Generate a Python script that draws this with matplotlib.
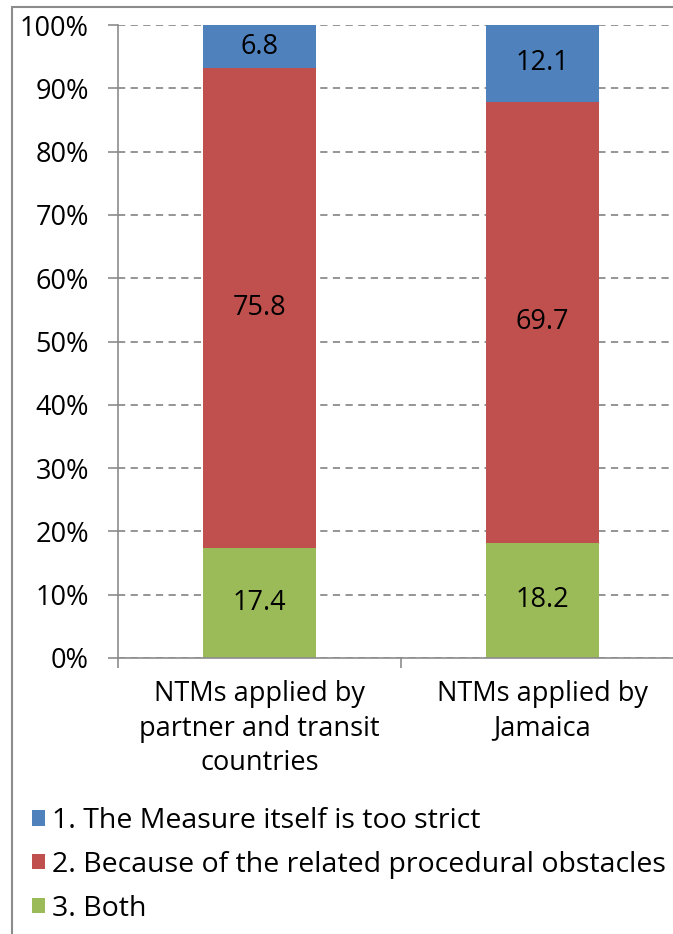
import matplotlib
matplotlib.use("Agg")
import matplotlib.pyplot as plt
from matplotlib.patches import Rectangle

plt.rcParams["font.family"] = ["Open Sans", "DejaVu Sans"]

categories = ["NTMs applied by\npartner and transit\ncountries", "NTMs applied by\nJamaica"]
both = [17.4, 18.2]
procedural = [75.8, 69.7]
too_strict = [6.8, 12.1]
series_labels = [
    "1. The Measure itself is too strict",
    "2. Because of the related procedural obstacles",
    "3. Both",
]
colors = ["#4F81BD", "#C0504D", "#9BBB59"]
FS = 19.5

fig = plt.figure(figsize=(6.73, 9.34), dpi=100)
fig.patches.append(Rectangle((12 / 673, -0.1), 2, 1.1 - 7 / 934, transform=fig.transFigure,
                             fill=False, edgecolor="#8c8c8c", linewidth=1.5, zorder=0))
ax = fig.add_axes([118 / 673, 1 - 658 / 934, 566 / 673, 633 / 934])

x = [0.5, 1.5]
w = 0.4
bottoms2 = both
bottoms3 = [a + b for a, b in zip(both, procedural)]
b3 = ax.bar(x, both, w, color=colors[2], zorder=2)
b2 = ax.bar(x, procedural, w, bottom=bottoms2, color=colors[1], zorder=2)
b1 = ax.bar(x, too_strict, w, bottom=bottoms3, color=colors[0], zorder=2)

for vals, bot in [(both, [0, 0]), (procedural, bottoms2), (too_strict, bottoms3)]:
    for xi, v, b in zip(x, vals, bot):
        ax.text(xi, b + v / 2, f"{v}", ha="center", va="center", fontsize=FS, color="black", zorder=3)

ax.set_xlim(0, 2)
ax.set_ylim(0, 100)
ax.set_yticks(range(0, 101, 10))
ax.set_yticklabels([f"{t}%" for t in range(0, 101, 10)], fontsize=FS)
ax.yaxis.grid(True, linestyle=(0, (4, 3)), color="#8c8c8c", linewidth=1.3, zorder=1)
ax.set_xticks([0, 1, 2])
ax.set_xticklabels([])
ax.set_xticks(x, minor=True)
ax.set_xticklabels(categories, minor=True, fontsize=FS, linespacing=1.3)
ax.tick_params(axis="x", which="minor", length=0, pad=16)
ax.tick_params(axis="x", which="major", length=7, color="#8c8c8c", width=1.2)
ax.tick_params(axis="y", length=7, color="#8c8c8c", width=1.2, pad=14)
for s in ["top", "right"]:
    ax.spines[s].set_visible(False)
for s in ["left", "bottom"]:
    ax.spines[s].set_color("#8c8c8c")
    ax.spines[s].set_linewidth(1.2)

handles = [b1, b2, b3]
fig.legend(handles, series_labels, loc="upper left", bbox_to_anchor=(32 / 673, 1 - 807 / 934),
           frameon=False, fontsize=20.5, handlelength=0.45, handleheight=0.45,
           handletextpad=0.25, labelspacing=0.56, borderaxespad=0, borderpad=0)

fig.savefig("out.png", dpi=100)
